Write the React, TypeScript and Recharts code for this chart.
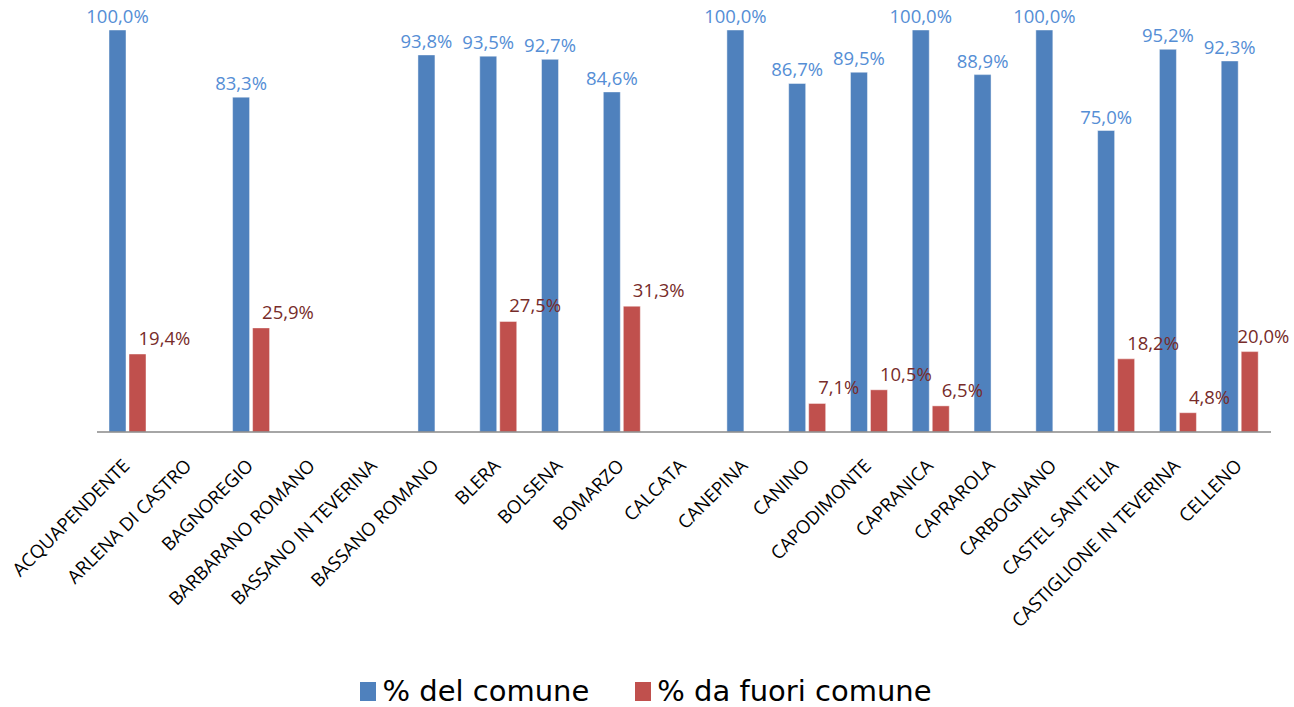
import React from "react";
import { BarChart, Bar, XAxis, YAxis, Legend, LabelList } from "recharts";

const categories = [
  "ACQUAPENDENTE",
  "ARLENA DI CASTRO",
  "BAGNOREGIO",
  "BARBARANO ROMANO",
  "BASSANO IN TEVERINA",
  "BASSANO ROMANO",
  "BLERA",
  "BOLSENA",
  "BOMARZO",
  "CALCATA",
  "CANEPINA",
  "CANINO",
  "CAPODIMONTE",
  "CAPRANICA",
  "CAPRAROLA",
  "CARBOGNANO",
  "CASTEL SANT'ELIA",
  "CASTIGLIONE IN TEVERINA",
  "CELLENO",
];

const delComune: (number | null)[] = [
  100, null, 83.3, null, null, 93.8, 93.5, 92.7, 84.6, null, 100, 86.7, 89.5, 100, 88.9, 100, 75.0, 95.2, 92.3,
];

const fuoriComune: (number | null)[] = [
  19.4, null, 25.9, null, null, null, 27.5, null, 31.3, null, null, 7.1, 10.5, 6.5, null, null, 18.2, 4.8, 20.0,
];

const seriesNames = ["% del comune", "% da fuori comune"];

const data = categories.map((name, i) => ({
  name,
  del: delComune[i],
  fuori: fuoriComune[i],
}));

const BLUE = "#4F81BD";
const RED = "#C0504D";
const BLUE_TEXT = "#558ED5";
const RED_TEXT = "#772C2A";
const LABEL_FONT = '"Open Sans", sans-serif';

const W = 1294;
const H = 707;

const fmt = (v: number) => v.toFixed(1).replace(".", ",") + "%";

const BlueLabel = (props: any) => {
  const { x, y, width, value } = props;
  if (value === null || value === undefined) return null;
  return (
    <text
      x={x + width / 2}
      y={y - 7}
      textAnchor="middle"
      fill={BLUE_TEXT}
      fontFamily={LABEL_FONT}
      fontSize={18.5}
    >
      {fmt(value)}
    </text>
  );
};

const RedLabel = (props: any) => {
  const { x, y, width, value } = props;
  if (value === null || value === undefined) return null;
  const txt = fmt(value);
  const est = txt.length * 10.5;
  const sx = Math.min(x + width / 2 + 1, W - 4 - est);
  return (
    <text
      x={sx}
      y={y - 9}
      textAnchor="start"
      fill={RED_TEXT}
      fontFamily={LABEL_FONT}
      fontSize={18.5}
    >
      {txt}
    </text>
  );
};

const Tick = (props: any) => {
  const { x, y, payload } = props;
  return (
    <g transform={`translate(${x + 3},${y + 35})`}>
      <text
        textAnchor="end"
        transform="rotate(-45)"
        fill="#000"
        fontFamily={LABEL_FONT}
        fontSize={18.5}
      >
        {payload.value}
      </text>
    </g>
  );
};

const LegendContent = () => {
  const colors = [BLUE, RED];
  return (
    <div
      style={{
        display: "flex",
        justifyContent: "center",
        alignItems: "center",
        height: 30,
        paddingRight: 2,
        fontFamily: '"DejaVu Sans", sans-serif',
        fontSize: 29,
        color: "#000",
      }}
    >
      {seriesNames.map((n, i) => (
        <div
          key={n}
          style={{ display: "flex", alignItems: "center", marginLeft: i === 0 ? 0 : 46 }}
        >
          <span
            style={{
              display: "inline-block",
              width: 16,
              height: 19,
              background: colors[i],
              marginRight: 6,
            }}
          />
          <span style={{ lineHeight: "30px" }}>{n}</span>
        </div>
      ))}
    </div>
  );
};

export default function App() {
  return (
    <div style={{ position: "absolute", left: 0, top: 0, width: W, height: H }}>
      <BarChart
        width={W}
        height={H}
        data={data}
        margin={{ top: 30, right: 23, left: 97, bottom: 1 }}
        barSize={17}
        barGap={3}
      >
        <XAxis
          dataKey="name"
          interval={0}
          tickLine={false}
          tickSize={0}
          tickMargin={0}
          height={244}
          axisLine={{ stroke: "#898989", strokeWidth: 1.5 }}
          tick={<Tick />}
        />
        <YAxis hide domain={[0, 100]} />
        <Legend
          verticalAlign="bottom"
          height={30}
          content={<LegendContent />}
          wrapperStyle={{ left: 0, width: W }}
        />
        <Bar
          dataKey="del"
          name={seriesNames[0]}
          fill={BLUE}
          stroke="rgba(255,255,255,0.45)"
          strokeWidth={1}
          isAnimationActive={false}
        >
          <LabelList dataKey="del" content={<BlueLabel />} />
        </Bar>
        <Bar
          dataKey="fuori"
          name={seriesNames[1]}
          fill={RED}
          stroke="rgba(255,255,255,0.45)"
          strokeWidth={1}
          isAnimationActive={false}
        >
          <LabelList dataKey="fuori" content={<RedLabel />} />
        </Bar>
      </BarChart>
    </div>
  );
}
